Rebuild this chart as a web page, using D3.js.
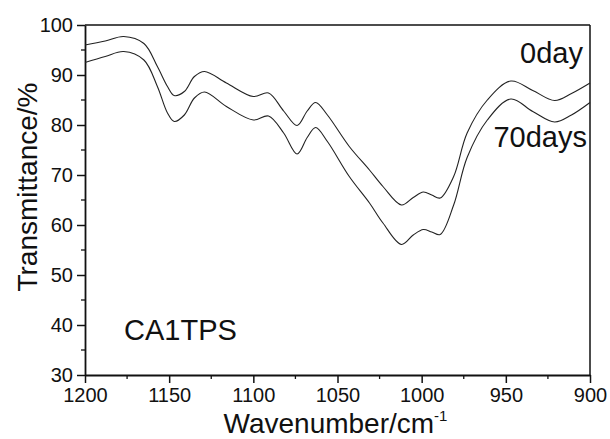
<!DOCTYPE html>
<html>
<head>
<meta charset="utf-8">
<script src="https://cdn.jsdelivr.net/npm/d3@7"></script>
<style>
  body { margin: 0; background: #fff; }
  text { font-family: "Liberation Sans", Arial, sans-serif; fill: #111; }
</style>
</head>
<body>
<div id="chart"></div>
<script>
// wavenumber (cm-1) and transmittance (%)
const wavenumbers = [1200, 1188, 1177, 1165, 1157, 1151, 1147, 1141, 1135, 1129, 1116, 1100, 1091, 1082, 1074, 1068, 1063, 1056, 1043, 1031, 1023, 1012, 1005, 999, 994, 989, 981, 973, 961, 947, 934, 921, 911, 900];
const day0 = [96.0, 96.8, 97.7, 96.3, 91.7, 87.7, 85.9, 86.7, 89.7, 90.7, 88.4, 85.7, 86.4, 82.8, 79.9, 82.8, 84.5, 82.0, 75.7, 71.0, 67.7, 64.0, 65.5, 66.6, 66.0, 65.4, 69.7, 78.4, 85.0, 88.8, 86.9, 84.9, 86.3, 88.4];
const day70 = [92.5, 93.7, 94.7, 93.0, 87.7, 82.4, 80.7, 82.0, 85.4, 86.6, 83.7, 81.0, 81.8, 78.4, 74.2, 77.5, 79.5, 76.7, 69.7, 64.4, 60.4, 56.1, 58.0, 59.1, 58.6, 58.1, 64.0, 73.5, 81.0, 85.2, 82.7, 80.6, 82.0, 84.5];
const xTicks = [1200, 1150, 1100, 1050, 1000, 950, 900];
const yTicks = [30, 40, 50, 60, 70, 80, 90, 100];
const seriesLabels = ["0day", "70days"];
const sampleLabel = "CA1TPS";

const width = 610;
const height = 439;
const margin = { top: 25, right: 20, bottom: 64, left: 85 };
const w = width - margin.left - margin.right;
const h = height - margin.top - margin.bottom;

const svg = d3.select("#chart")
    .append("svg")
    .attr("width", width)
    .attr("height", height);

const g = svg.append("g")
    .attr("transform", `translate(${margin.left},${margin.top})`);

const x = d3.scaleLinear().domain([1200, 900]).range([0, w]);
const y = d3.scaleLinear().domain([30, 100]).range([h, 0]);

// minor ticks
const xMinor = d3.range(1175, 900, -50);
const yMinor = d3.range(35, 100, 10);

g.selectAll(".xminor").data(xMinor).enter().append("line")
    .attr("x1", d => x(d)).attr("x2", d => x(d))
    .attr("y1", h).attr("y2", h + 4)
    .attr("stroke", "#111").attr("stroke-width", 1.3);
g.selectAll(".yminor").data(yMinor).enter().append("line")
    .attr("x1", -4).attr("x2", 0)
    .attr("y1", d => y(d)).attr("y2", d => y(d))
    .attr("stroke", "#111").attr("stroke-width", 1.3);

const xAxis = g.append("g")
    .attr("transform", `translate(0,${h})`)
    .call(d3.axisBottom(x).tickValues(xTicks).tickFormat(d3.format("d"))
        .tickSize(8).tickPadding(5).tickSizeOuter(0));
const yAxis = g.append("g")
    .call(d3.axisLeft(y).tickValues(yTicks).tickFormat(d3.format("d"))
        .tickSize(8).tickPadding(4).tickSizeOuter(0));

[xAxis, yAxis].forEach(a => {
    a.select(".domain").attr("stroke", "#111").attr("stroke-width", 1.8);
    a.selectAll(".tick line").attr("stroke", "#111").attr("stroke-width", 1.5);
    a.selectAll(".tick text")
        .style("font-family", "'Liberation Sans', Arial, sans-serif")
        .style("font-size", "20px")
        .attr("fill", "#111");
});

// frame top and right
g.append("line").attr("x1", 0).attr("x2", w).attr("y1", 0).attr("y2", 0)
    .attr("stroke", "#111").attr("stroke-width", 1.5);
g.append("line").attr("x1", w).attr("x2", w).attr("y1", 0).attr("y2", h)
    .attr("stroke", "#111").attr("stroke-width", 1.5);

const line = d3.line()
    .x(d => x(d[0]))
    .y(d => y(d[1]))
    .curve(d3.curveCatmullRom.alpha(0.5));

[day0, day70].forEach(vals => {
    g.append("path")
        .datum(wavenumbers.map((wn, i) => [wn, vals[i]]))
        .attr("fill", "none")
        .attr("stroke", "#222")
        .attr("stroke-width", 1.1)
        .attr("d", line);
});

// labels
g.append("text").attr("x", w - 7).attr("y", 38)
    .attr("text-anchor", "end").style("font-size", "29px").text(seriesLabels[0]);
g.append("text").attr("x", w - 3).attr("y", 122)
    .attr("text-anchor", "end").style("font-size", "29px").text(seriesLabels[1]);
g.append("text").attr("x", 39).attr("y", 315)
    .style("font-size", "29px").text(sampleLabel);

// axis titles
const xt = svg.append("text")
    .attr("x", margin.left + w / 2 - 2)
    .attr("y", 433)
    .attr("text-anchor", "middle")
    .style("font-size", "28px");
xt.append("tspan").text("Wavenumber/cm");
xt.append("tspan").attr("dy", -12).style("font-size", "15px").text("-1");

svg.append("text")
    .attr("transform", "translate(37,187) rotate(-90)")
    .attr("text-anchor", "middle")
    .style("font-size", "28px")
    .text("Transmittance/%");
</script>
</body>
</html>
